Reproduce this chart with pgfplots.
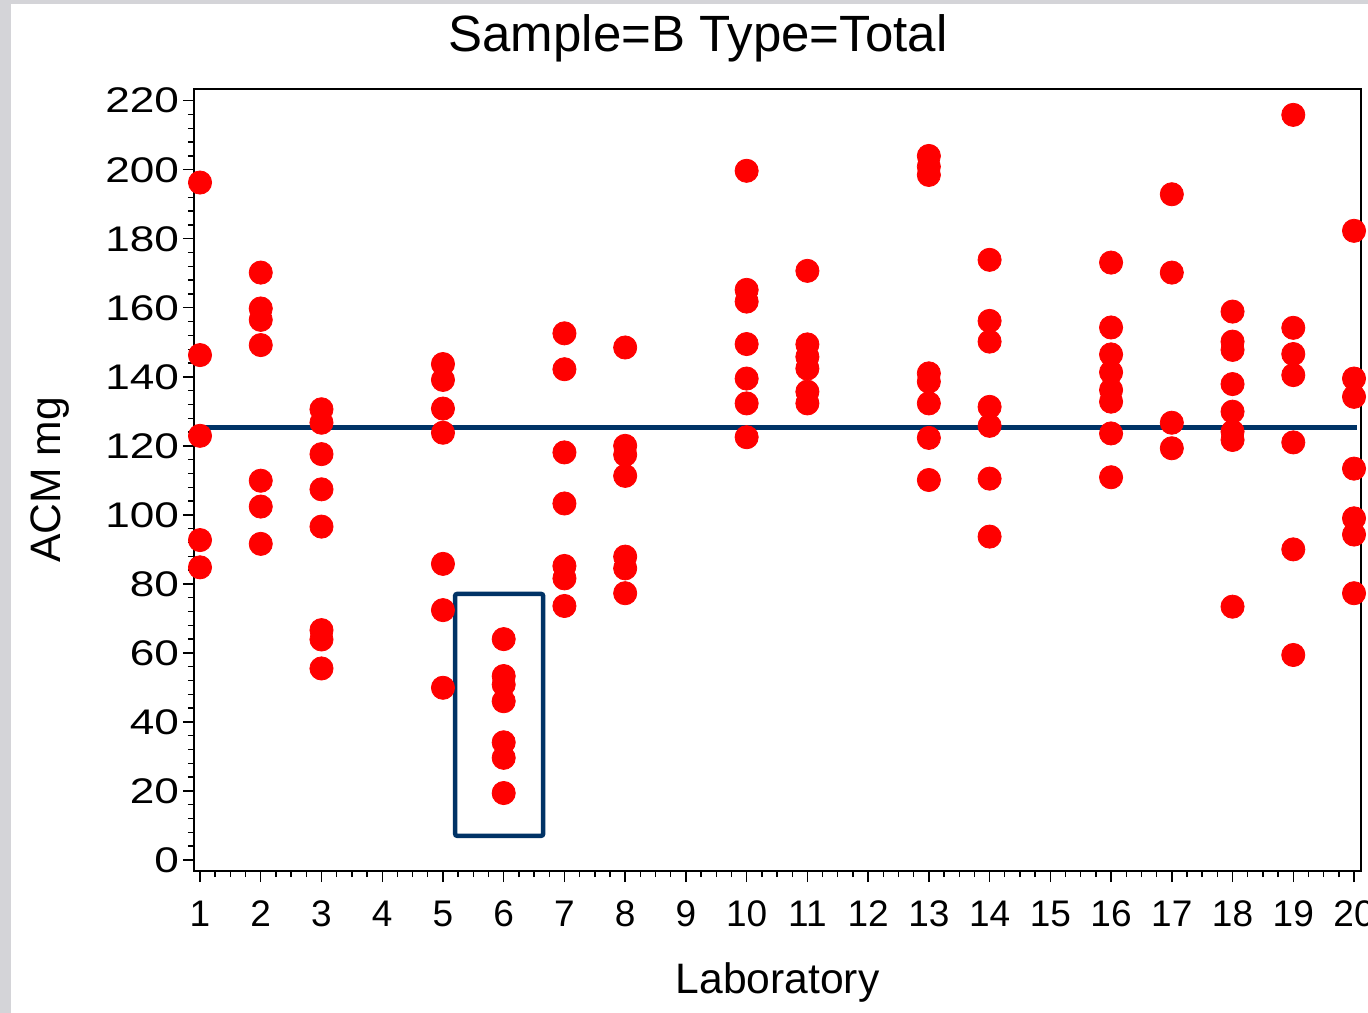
\documentclass[border=0pt]{standalone}
\usepackage{fontspec}
\setmainfont{Liberation Sans}
\newfontfamily\ywide[FakeStretch=1.24]{Liberation Sans}
\usepackage{pgfplots}
\pgfplotsset{compat=1.18}
\definecolor{navy}{RGB}{0,51,102}
\definecolor{bggray}{RGB}{212,212,216}

\pgfplotstableread{
lab acm
1 196.3
1 146.3
1 122.9
1 92.7
1 84.8
2 170.2
2 159.8
2 156.5
2 149.2
2 109.9
2 102.4
2 91.6
3 130.6
3 126.7
3 117.6
3 107.4
3 96.6
3 66.6
3 63.9
3 55.5
5 143.7
5 139.1
5 130.8
5 123.8
5 85.8
5 72.4
5 49.9
6 64.0
6 53.3
6 50.8
6 46.0
6 34.1
6 29.6
6 19.4
7 152.6
7 142.2
7 118.1
7 103.3
7 85.2
7 81.6
7 73.6
8 148.5
8 120.0
8 117.4
8 111.3
8 87.9
8 84.5
8 77.3
10 199.7
10 165.2
10 161.8
10 149.5
10 139.5
10 132.3
10 122.5
11 170.7
11 149.4
11 145.8
11 142.4
11 135.7
11 132.3
13 204.0
13 200.9
13 198.5
13 141.0
13 138.6
13 132.3
13 122.3
13 110.1
14 173.9
14 156.2
14 150.2
14 131.3
14 125.8
14 110.5
14 93.7
16 173.1
16 154.3
16 146.5
16 141.3
16 136.2
16 132.8
16 123.6
16 110.9
17 192.9
17 170.2
17 126.7
17 119.3
18 158.9
18 150.2
18 147.8
18 137.9
18 129.9
18 124.1
18 121.7
18 73.4
19 215.9
19 154.2
19 146.6
19 140.5
19 121.0
19 90.0
19 59.4
20 182.3
20 139.5
20 134.2
20 113.4
20 99.0
20 94.3
20 77.3
}\acmdata

\begin{document}
\begin{tikzpicture}
% page frame: grey strip at left and top, as in the screenshot
\fill[bggray] (-97bp,-71bp) rectangle (587bp,435.5bp);
\fill[white] (-91.5bp,-71bp) rectangle (587bp,433.5bp);
\useasboundingbox (-97bp,-71bp) rectangle (587bp,435.5bp);
\begin{axis}[
  scale only axis,
  width=583.5bp, height=391bp,
  xmin=0.901, xmax=20.115,
  ymin=-3.19, ymax=223.4,
  xtick={1,...,20},
  ytick={0,20,...,220},
  minor x tick num=3,
  minor y tick num=4,
  tick align=outside,
  xtick pos=left, ytick pos=left,
  major tick length=5.5bp,
  minor tick length=3bp,
  axis line style={line width=0.8bp},
  every tick/.style={black, line width=0.7bp},
  /pgf/number format/assume math mode=true,
  xticklabel style={font=\fontsize{18.5bp}{22bp}\selectfont, yshift=-6bp},
  yticklabel style={font=\ywide\fontsize{17.8bp}{21bp}\selectfont, xshift=1.5bp},
  xlabel={Laboratory},
  ylabel={ACM mg},
  label style={font=\fontsize{21.3bp}{25bp}\selectfont},
  xlabel style={at={(axis description cs:0.5,-0.142)}, anchor=center},
  ylabel style={at={(axis description cs:-0.123,0.5)}, anchor=center},
]
\addplot[only marks, mark=*, mark size=5.8bp, color=red, mark options={draw=red, fill=red}]
  table[x=lab, y=acm] {\acmdata};
\addplot[navy, line width=2.5bp] coordinates {(0.95,125.2) (20.05,125.2)};
\draw[navy, line width=2.2bp, rounded corners=1bp] (axis cs:5.2,7.0) rectangle (axis cs:6.65,77.1);
\end{axis}
\node[font=\fontsize{25.5bp}{30bp}\selectfont] at (252bp,416.5bp) {Sample=B Type=Total};
\end{tikzpicture}
\end{document}
